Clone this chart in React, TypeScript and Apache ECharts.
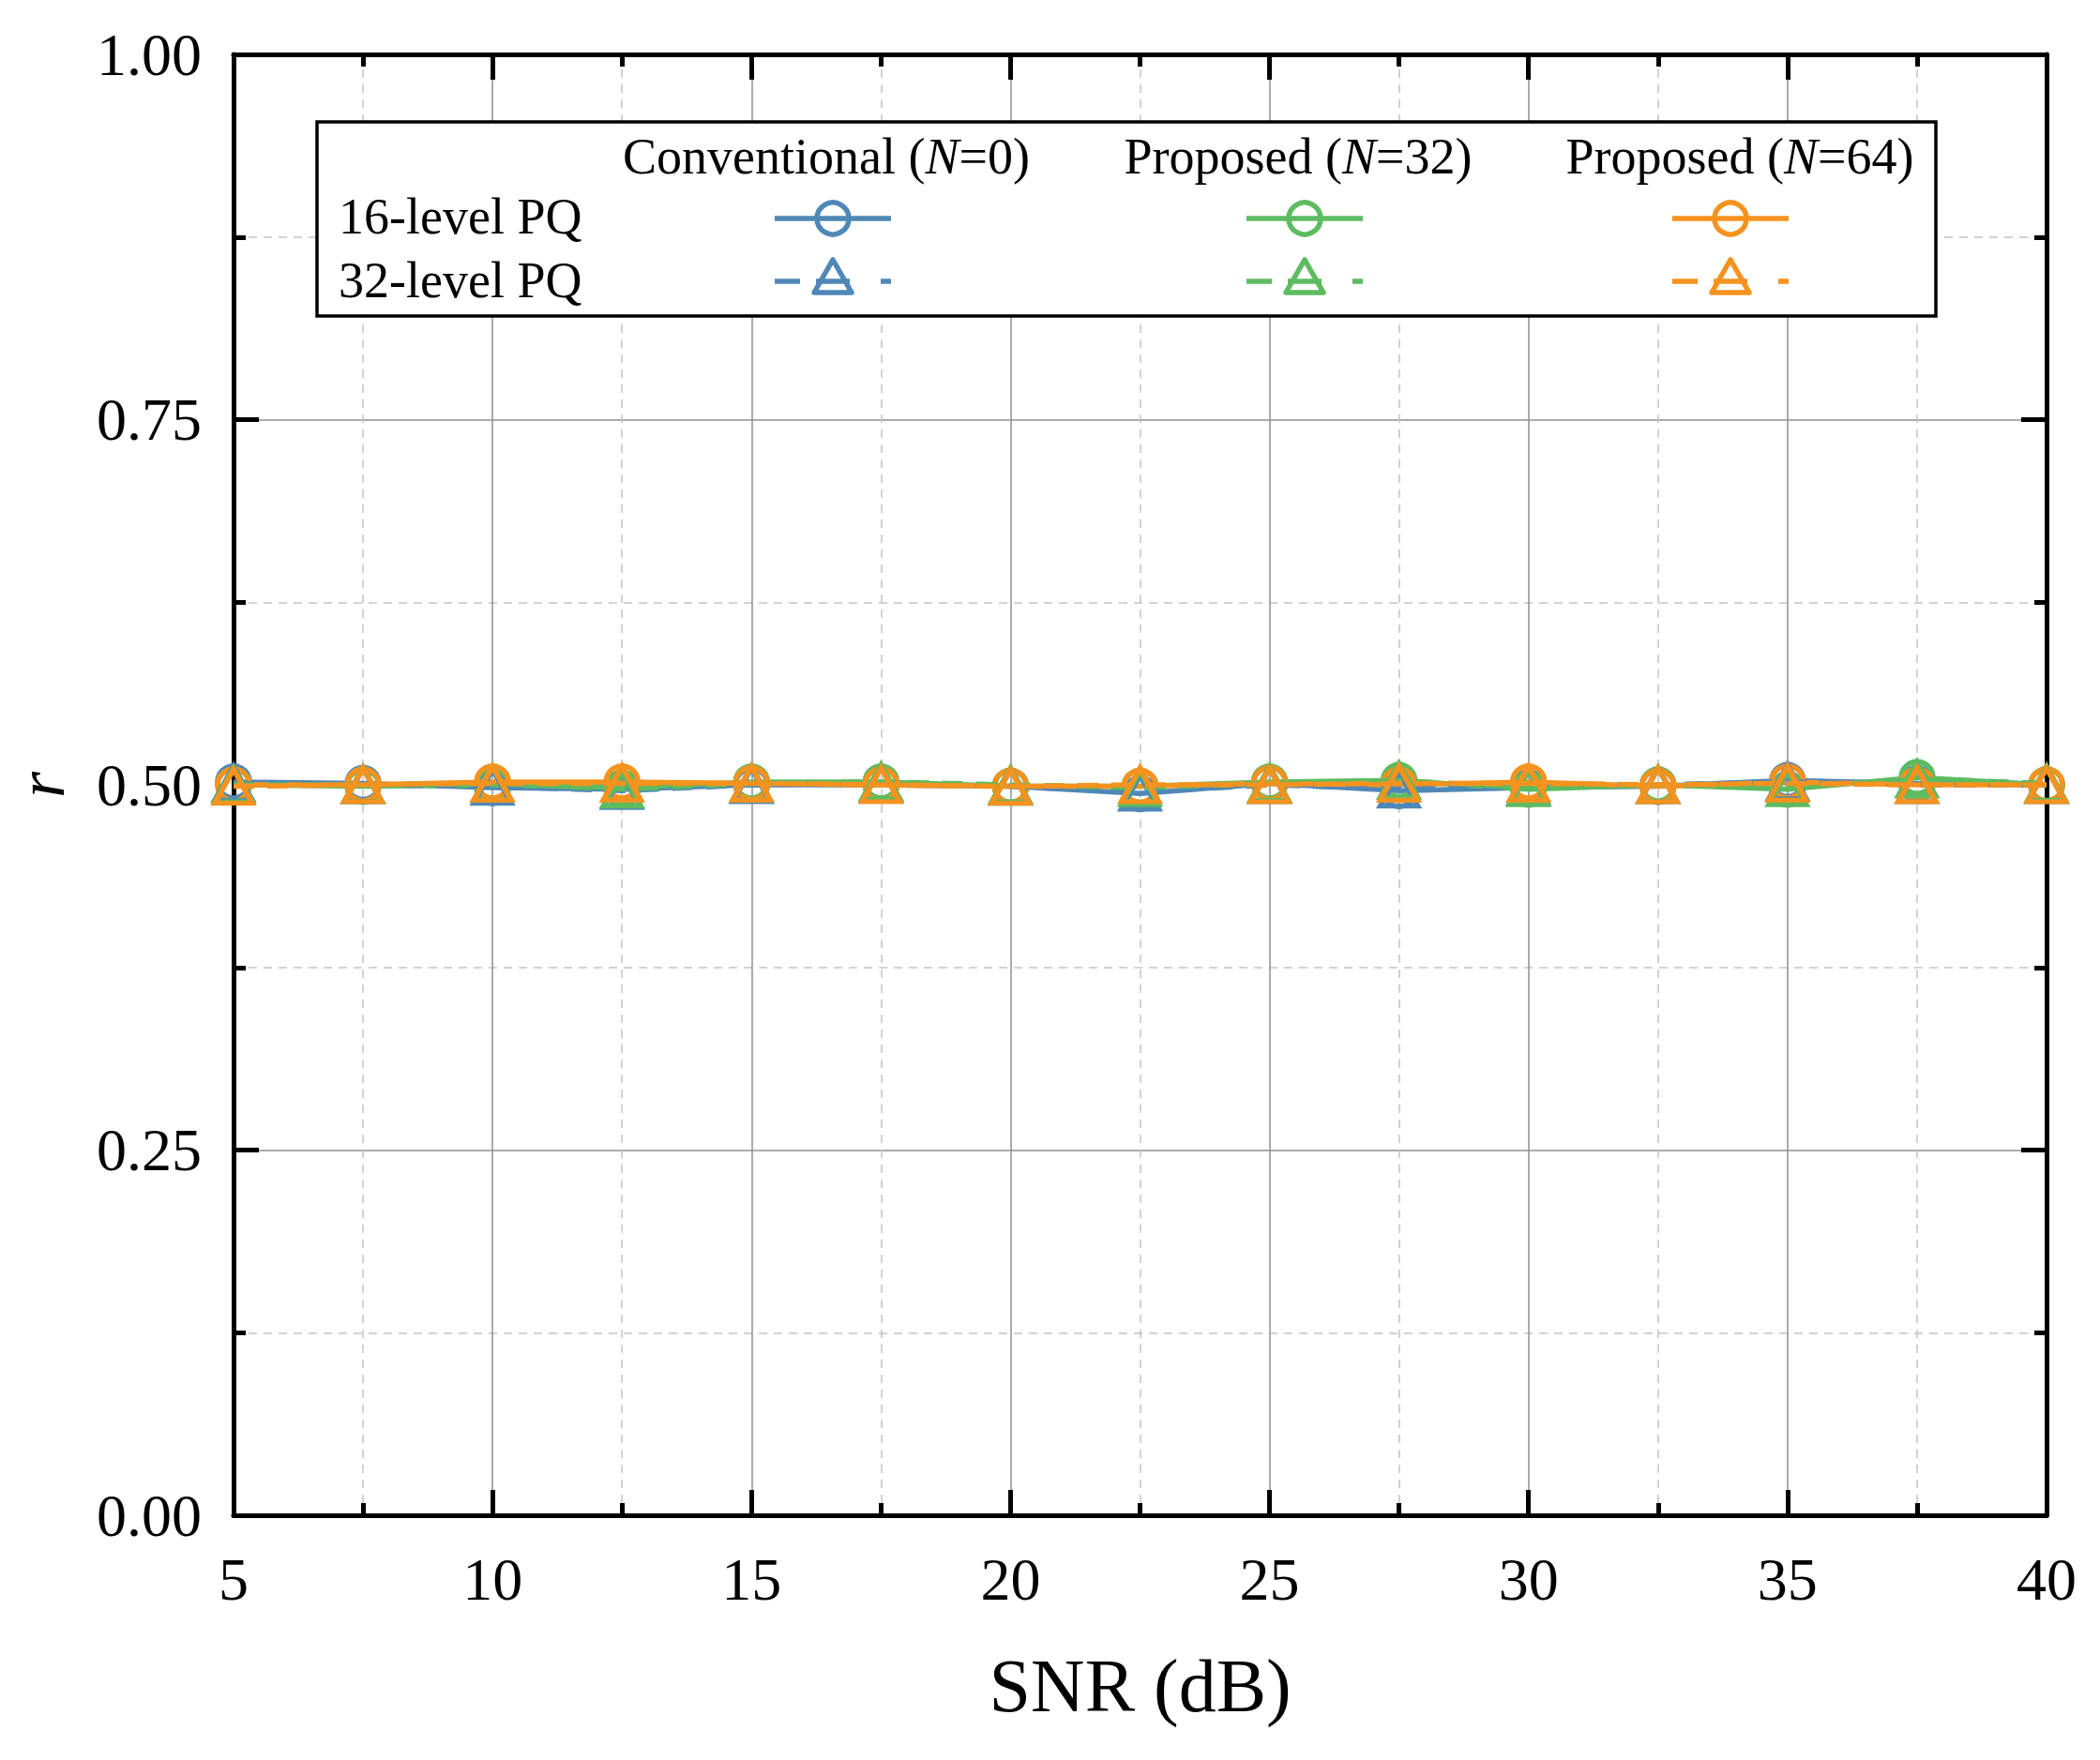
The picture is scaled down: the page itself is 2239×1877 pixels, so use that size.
import React, { useEffect, useRef } from "react";
import * as echarts from "echarts";

const SNR = [5, 7.5, 10, 12.5, 15, 17.5, 20, 22.5, 25, 27.5, 30, 32.5, 35, 37.5, 40];

const conv16 = [0.502, 0.501, 0.498, 0.497, 0.5, 0.5, 0.499, 0.494, 0.501, 0.496, 0.498, 0.499, 0.503, 0.501, 0.5];
const prop32_16 = [0.5, 0.499, 0.5, 0.498, 0.502, 0.502, 0.499, 0.499, 0.502, 0.503, 0.497, 0.5, 0.497, 0.505, 0.5];
const prop64_16 = [0.5, 0.5, 0.502, 0.502, 0.501, 0.5, 0.499, 0.499, 0.501, 0.5, 0.502, 0.499, 0.502, 0.5, 0.5];

const conv32 = [0.501, 0.5, 0.499, 0.496, 0.5, 0.501, 0.499, 0.495, 0.5, 0.497, 0.499, 0.5, 0.502, 0.5, 0.5];
const prop32_32 = [0.5, 0.5, 0.501, 0.497, 0.501, 0.502, 0.5, 0.498, 0.501, 0.503, 0.498, 0.5, 0.498, 0.504, 0.501];
const prop64_32 = [0.499, 0.5, 0.501, 0.501, 0.501, 0.5, 0.499, 0.5, 0.5, 0.501, 0.501, 0.5, 0.501, 0.5, 0.5];

const COLUMN_TITLES = [
  ["Conventional (", "N", "=0)"],
  ["Proposed (", "N", "=32)"],
  ["Proposed (", "N", "=64)"],
];
const ROW_TITLES = ["16-level PQ", "32-level PQ"];
const COLORS = ["#4f88b6", "#5dbb60", "#f6921e"];

const FONT = "'Liberation Serif', 'Times New Roman', serif";

export default function App() {
  const ref = useRef<HTMLDivElement>(null);

  useEffect(() => {
    if (!ref.current) return;
    const chart = echarts.init(ref.current, null, { renderer: "svg" });

    const lw = 5.5;
    const mkSeries = (name: string, data: number[], color: string, tri: boolean, z: number) => ({
      name,
      type: "line",
      data: SNR.map((x, i) => [x, data[i]]),
      symbol: tri ? "triangle" : "circle",
      symbolSize: tri ? [40, 36] : 34,
      showSymbol: true,
      clip: false,
      z,
      itemStyle: { color: "rgba(255,255,255,0)", borderColor: color, borderWidth: lw },
      lineStyle: { color, width: lw, type: tri ? [22, 14] : "solid" },
      emphasis: { disabled: true },
    });

    const axisCommon = {
      axisLine: { show: true, onZero: false, lineStyle: { color: "#000", width: 5 } },
      axisTick: { show: true, inside: true, length: 27, lineStyle: { color: "#000", width: 5 } },
      minorTick: { show: true, splitNumber: 2, length: 13, lineStyle: { color: "#000", width: 5 } },
    };

    const sx = [338, 2064];
    const colCenters = [881, 1384, 1855];
    const symCenters = [888, 1391, 1845];
    const rowY = [231, 299];
    const headerY = 167;

    const legendEls: any[] = [
      {
        type: "rect",
        shape: { x: sx[0], y: 130, width: sx[1] - sx[0], height: 207 },
        style: { fill: "#fff", stroke: "#000", lineWidth: 3.5 },
        z: 100,
      },
    ];
    COLUMN_TITLES.forEach((t, i) => {
      legendEls.push({
        type: "text",
        x: colCenters[i],
        y: headerY,
        z: 101,
        style: {
          text: `{a|${t[0]}}{i|${t[1]}}{a|${t[2]}}`,
          align: "center",
          verticalAlign: "middle",
          fill: "#000",
          font: `54px ${FONT}`,
          rich: {
            a: { fontSize: 54, fontFamily: FONT, fill: "#000" },
            i: { fontSize: 54, fontFamily: FONT, fontStyle: "italic", fill: "#000" },
          },
        },
      });
    });
    ROW_TITLES.forEach((t, r) => {
      legendEls.push({
        type: "text",
        x: 361,
        y: rowY[r],
        z: 101,
        style: { text: t, align: "left", verticalAlign: "middle", fill: "#000", font: `54px ${FONT}` },
      });
    });
    symCenters.forEach((cx, i) => {
      const c = COLORS[i];
      const y1 = rowY[0] + 2;
      const y2 = rowY[1] + 1;
      legendEls.push({
        type: "line",
        z: 101,
        shape: { x1: cx - 62, y1, x2: cx + 62, y2: y1 },
        style: { stroke: c, lineWidth: lw },
      });
      legendEls.push({
        type: "circle",
        z: 102,
        shape: { cx, cy: y1, r: 17 },
        style: { fill: "none", stroke: c, lineWidth: lw },
      });
      legendEls.push({
        type: "line",
        z: 101,
        shape: { x1: cx - 62, y1: y2, x2: cx - 35, y2 },
        style: { stroke: c, lineWidth: lw },
      });
      legendEls.push({
        type: "line",
        z: 101,
        shape: { x1: cx + 51, y1: y2, x2: cx + 62, y2 },
        style: { stroke: c, lineWidth: lw },
      });
      legendEls.push({
        type: "line",
        z: 101,
        shape: { x1: cx - 18, y1: y2, x2: cx + 18, y2 },
        style: { stroke: c, lineWidth: lw },
      });
      legendEls.push({
        type: "polygon",
        z: 102,
        shape: { points: [[cx, y2 - 23], [cx + 20, y2 + 12], [cx - 20, y2 + 12]] },
        style: { fill: "none", stroke: c, lineWidth: lw, lineJoin: "round" },
      });
    });

    legendEls.push({
      type: "text",
      x: 44,
      y: 837,
      rotation: Math.PI / 2,
      z: 101,
      style: { text: "r", align: "center", verticalAlign: "middle", fill: "#000", font: `italic 72px ${FONT}` },
    });

    const option: any = {
      animation: false,
      backgroundColor: "#fff",
      grid: { left: 249, right: 2239 - 2182, top: 58, bottom: 1877 - 1616, containLabel: false },
      xAxis: [
        {
          type: "value",
          min: 5,
          max: 40,
          interval: 5,
          position: "bottom",
          ...axisCommon,
          splitLine: { show: true, lineStyle: { color: "#8f8f8f", width: 1.5 } },
          minorSplitLine: { show: true, lineStyle: { color: "#c4c4c4", width: 1.5, type: [9, 7] } },
          axisLabel: { show: true, color: "#000", fontFamily: FONT, fontSize: 64, margin: 36 },
          name: "SNR (dB)",
          nameLocation: "middle",
          nameGap: 142,
          nameTextStyle: { color: "#000", fontFamily: FONT, fontSize: 80 },
        },
        {
          type: "value",
          min: 5,
          max: 40,
          interval: 5,
          position: "top",
          ...axisCommon,
          splitLine: { show: false },
          axisLabel: { show: false },
        },
      ],
      yAxis: [
        {
          type: "value",
          min: 0,
          max: 1,
          interval: 0.25,
          position: "left",
          ...axisCommon,
          splitLine: { show: true, lineStyle: { color: "#8f8f8f", width: 1.5 } },
          minorSplitLine: { show: true, lineStyle: { color: "#c4c4c4", width: 1.5, type: [9, 7] } },
          axisLabel: {
            show: true,
            color: "#000",
            fontFamily: FONT,
            fontSize: 64,
            margin: 34,
            formatter: (v: number) => v.toFixed(2),
          },
        },
        {
          type: "value",
          min: 0,
          max: 1,
          interval: 0.25,
          position: "right",
          ...axisCommon,
          splitLine: { show: false },
          axisLabel: { show: false },
        },
      ],
      series: [
        mkSeries("Conventional (N=0), 16-level PQ", conv16, COLORS[0], false, 2),
        mkSeries("Proposed (N=32), 16-level PQ", prop32_16, COLORS[1], false, 3),
        mkSeries("Proposed (N=64), 16-level PQ", prop64_16, COLORS[2], false, 4),
        mkSeries("Conventional (N=0), 32-level PQ", conv32, COLORS[0], true, 5),
        mkSeries("Proposed (N=32), 32-level PQ", prop32_32, COLORS[1], true, 6),
        mkSeries("Proposed (N=64), 32-level PQ", prop64_32, COLORS[2], true, 7),
      ],
      graphic: legendEls,
    };

    chart.setOption(option);
    return () => chart.dispose();
  }, []);

  return (
    <div
      ref={ref}
      style={{ position: "absolute", left: 0, top: 0, width: 2239, height: 1877, background: "#fff" }}
    />
  );
}
